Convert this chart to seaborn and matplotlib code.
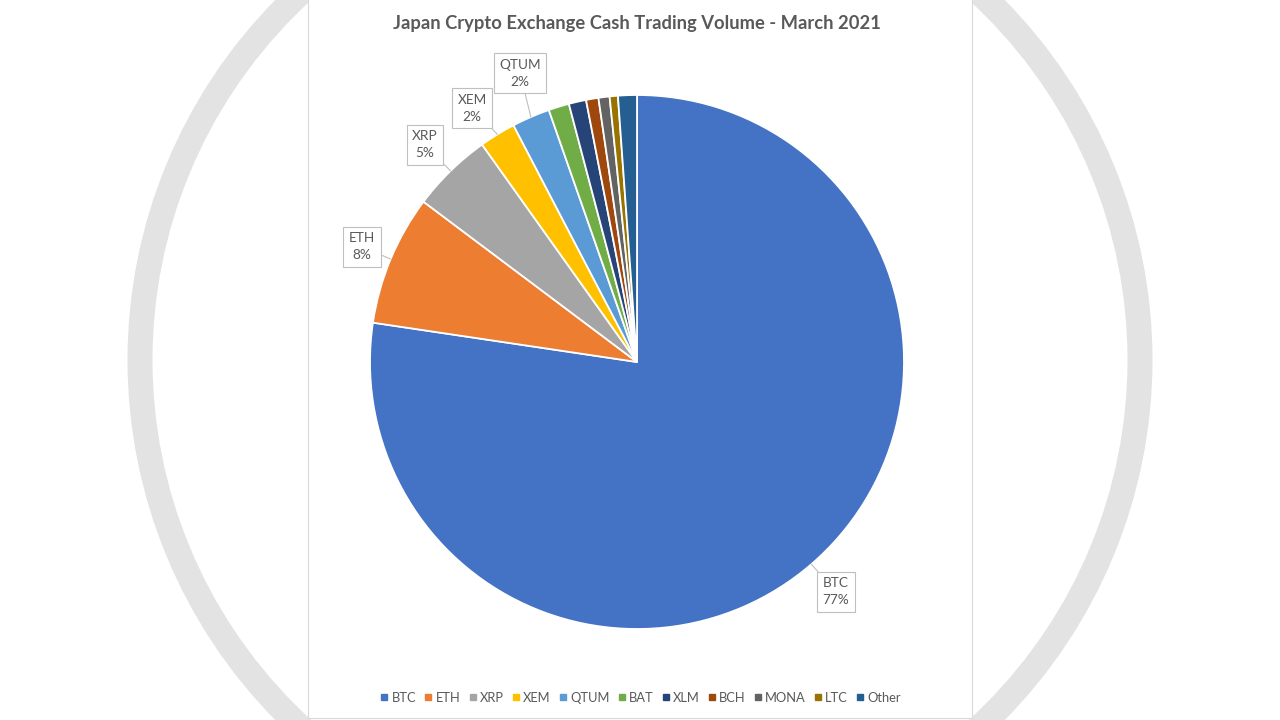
import matplotlib
matplotlib.use("Agg")
import matplotlib.pyplot as plt
from matplotlib.patches import Circle, Rectangle
import seaborn as sns
import numpy as np

coins = ["BTC", "ETH", "XRP", "XEM", "QTUM", "BAT", "XLM", "BCH", "MONA", "LTC", "Other"]
share = [77.4, 7.9, 4.9, 2.2, 2.3, 1.25, 1.05, 0.75, 0.67, 0.5, 1.14]
labelled = ["BTC", "ETH", "XRP", "XEM", "QTUM"]
colors = ["#4472C4", "#ED7D31", "#A5A5A5", "#FFC000", "#5B9BD5", "#70AD47",
          "#264478", "#9E480E", "#636363", "#997300", "#255E91"]

# callout box centres (pie radius units)
label_pos = {"BTC": (0.745, -0.861), "ETH": (-1.030, 0.431), "XRP": (-0.794, 0.813),
             "XEM": (-0.618, 0.951), "QTUM": (-0.438, 1.082)}

sns.set_theme(style="white")
plt.rcParams["font.family"] = ["Lato", "DejaVu Sans"]
text_col = "#595959"

W, H = 1280, 720
cx, cy, R = 637, 362, 267
fig = plt.figure(figsize=(12.8, 7.2), dpi=100)
fig.patch.set_facecolor("white")
ax = fig.add_axes([0, 0, 1, 1])

wedges, _ = ax.pie(share, colors=colors, startangle=90, counterclock=False,
                   radius=1, wedgeprops=dict(edgecolor="white", linewidth=1.3),
                   normalize=True)
for w in wedges:
    w.set_zorder(2)

# pie() resets the limits, so fix the frame afterwards
ax.set_xlim(-cx / R, (W - cx) / R)
ax.set_ylim(-(H - cy) / R, cy / R)
ax.set_aspect("equal")
ax.axis("off")

# background decoration: big grey ring and white chart panel
ax.add_patch(Circle(((640 - cx) / R, (cy - 360) / R), 500 / R, fill=False,
                    lw=25 * 0.72, ec="#E3E3E3", zorder=0))
ax.add_patch(Rectangle(((308 - cx) / R, (cy - 718) / R), 664 / R, 720 / R,
                       fc="white", ec="#D9D9D9", lw=0.8, zorder=1))

total = sum(share)
start = 90.0
for name, val in zip(coins, share):
    sweep = val / total * 360
    mid = np.deg2rad(start - sweep / 2)
    start -= sweep
    if name not in labelled:
        continue
    tx, ty = label_pos[name]
    ax.annotate(f"{name}\n{round(val / total * 100):.0f}%",
                xy=(np.cos(mid), np.sin(mid)), xytext=(tx, ty),
                ha="center", va="center", fontsize=9.8, color=text_col,
                linespacing=1.5, zorder=5,
                bbox=dict(boxstyle="square,pad=0.4", fc="white", ec="#BFBFBF", lw=0.8),
                arrowprops=dict(arrowstyle="-", color="#BFBFBF", lw=0.8,
                                shrinkA=0, shrinkB=0))

fig.text(637 / W, 1 - 24 / H, "Japan Crypto Exchange Cash Trading Volume - March 2021",
         ha="center", va="center", fontsize=13.2, fontweight="bold", color=text_col)

handles = [plt.Line2D([], [], marker="s", ls="", color=c, markersize=5) for c in colors]
fig.legend(handles, coins, loc="center", bbox_to_anchor=(640 / W, 1 - 698 / H),
           ncol=len(coins), frameon=False, fontsize=9.3, labelcolor=text_col,
           handletextpad=0.15, columnspacing=0.55, handlelength=0.8)

fig.savefig("out.png", dpi=100)
